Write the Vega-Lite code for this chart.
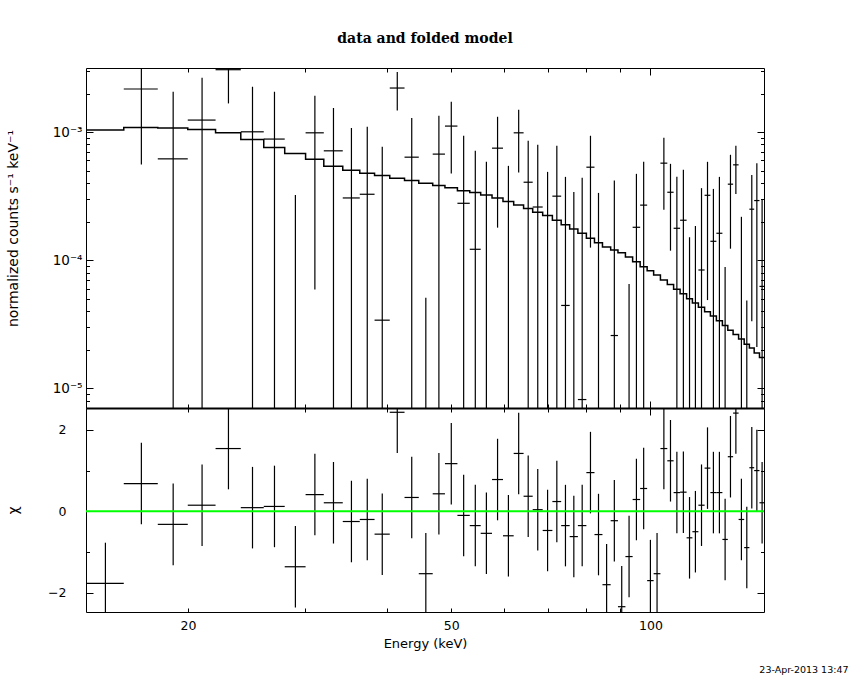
{
  "$schema": "https://vega.github.io/schema/vega-lite/v6.json",
  "width": 850,
  "height": 680,
  "autosize": {"type": "none"},
  "padding": 0,
  "background": "white",
  "config": {
    "view": {"stroke": null},
    "axis": {"grid": false, "domainColor": "black", "tickColor": "black", "labelColor": "black", "titleColor": "black", "labelFont": "DejaVu Sans", "titleFont": "DejaVu Sans", "labelFontSize": 12, "titleFontSize": 13, "titleFontWeight": "normal", "domainWidth": 1, "tickWidth": 1}
  },
  "title": {"text": "data and folded model", "font": "DejaVu Serif", "fontSize": 14, "fontWeight": "bold", "color": "black", "offset": -46, "anchor": "middle", "frame": "group"},
  "datasets": {
    "bins": [
      {"e": 15.0, "elo": 14.02, "ehi": 15.99, "y": null, "lo": null, "hi": null, "chi": -1.77, "clo": -2.77, "chh": -0.77},
      {"e": 17.0, "elo": 15.99, "ehi": 18.0, "y": 0.002169, "lo": 0.000558, "hi": 0.00378, "chi": 0.68, "clo": -0.32, "chh": 1.68},
      {"e": 18.99, "elo": 18.0, "ehi": 19.98, "y": 0.000618, "lo": 1e-7, "hi": 0.002066, "chi": -0.32, "clo": -1.32, "chh": 0.68},
      {"e": 21.0, "elo": 19.98, "ehi": 22.01, "y": 0.001241, "lo": 1e-7, "hi": 0.002658, "chi": 0.15, "clo": -0.85, "chh": 1.15},
      {"e": 23.02, "elo": 22.01, "ehi": 24.03, "y": 0.00307, "lo": 0.001674, "hi": 0.00447, "chi": 1.54, "clo": 0.54, "chh": 2.54},
      {"e": 25.03, "elo": 24.03, "ehi": 26.03, "y": 0.001005, "lo": 1e-7, "hi": 0.002262, "chi": 0.09, "clo": -0.91, "chh": 1.09},
      {"e": 27.02, "elo": 26.03, "ehi": 28.0, "y": 0.000882, "lo": 1e-7, "hi": 0.002066, "chi": 0.12, "clo": -0.88, "chh": 1.12},
      {"e": 29.06, "elo": 28.0, "ehi": 30.11, "y": null, "lo": 1e-7, "hi": 0.000323, "chi": -1.36, "clo": -2.36, "chh": -0.36},
      {"e": 31.1, "elo": 30.11, "ehi": 32.08, "y": 0.000987, "lo": 0.0000591, "hi": 0.001923, "chi": 0.41, "clo": -0.59, "chh": 1.41},
      {"e": 33.18, "elo": 32.08, "ehi": 34.27, "y": 0.000714, "lo": 1e-7, "hi": 0.00154, "chi": 0.21, "clo": -0.79, "chh": 1.21},
      {"e": 35.32, "elo": 34.27, "ehi": 36.36, "y": 0.000306, "lo": 1e-7, "hi": 0.001075, "chi": -0.25, "clo": -1.25, "chh": 0.75},
      {"e": 37.32, "elo": 36.36, "ehi": 38.28, "y": 0.000327, "lo": 1e-7, "hi": 0.0011, "chi": -0.2, "clo": -1.2, "chh": 0.8},
      {"e": 39.32, "elo": 38.28, "ehi": 40.36, "y": 0.000034, "lo": 1e-7, "hi": 0.000767, "chi": -0.56, "clo": -1.56, "chh": 0.44},
      {"e": 41.43, "elo": 40.36, "ehi": 42.49, "y": 0.002208, "lo": 0.001476, "hi": 0.002946, "chi": 2.43, "clo": 1.43, "chh": 3.43},
      {"e": 43.57, "elo": 42.49, "ehi": 44.65, "y": 0.000637, "lo": 1e-7, "hi": 0.001287, "chi": 0.34, "clo": -0.66, "chh": 1.34},
      {"e": 45.76, "elo": 44.65, "ehi": 46.87, "y": null, "lo": 1e-7, "hi": 0.0000509, "chi": -1.53, "clo": -2.53, "chh": -0.53},
      {"e": 47.89, "elo": 46.87, "ehi": 48.91, "y": 0.000673, "lo": 5e-6, "hi": 0.001341, "chi": 0.43, "clo": -0.57, "chh": 1.43},
      {"e": 50.0, "elo": 48.91, "ehi": 51.08, "y": 0.001114, "lo": 0.000474, "hi": 0.001726, "chi": 1.17, "clo": 0.17, "chh": 2.17},
      {"e": 52.2, "elo": 51.08, "ehi": 53.32, "y": 0.000278, "lo": 1e-7, "hi": 0.000936, "chi": -0.1, "clo": -1.1, "chh": 0.9},
      {"e": 54.36, "elo": 53.32, "ehi": 55.39, "y": 0.0001216, "lo": 1e-7, "hi": 0.000714, "chi": -0.35, "clo": -1.35, "chh": 0.65},
      {"e": 56.5, "elo": 55.39, "ehi": 57.62, "y": null, "lo": 1e-7, "hi": 0.000586, "chi": -0.54, "clo": -1.54, "chh": 0.46},
      {"e": 58.74, "elo": 57.62, "ehi": 59.86, "y": 0.000749, "lo": 0.0001794, "hi": 0.001317, "chi": 0.78, "clo": -0.22, "chh": 1.78},
      {"e": 61.0, "elo": 59.86, "ehi": 62.13, "y": null, "lo": 1e-7, "hi": 0.000545, "chi": -0.6, "clo": -1.6, "chh": 0.4},
      {"e": 63.22, "elo": 62.13, "ehi": 64.31, "y": 0.000987, "lo": 0.000483, "hi": 0.001494, "chi": 1.42, "clo": 0.42, "chh": 2.42},
      {"e": 65.35, "elo": 64.31, "ehi": 66.38, "y": 0.000406, "lo": 1e-7, "hi": 0.000855, "chi": 0.37, "clo": -0.63, "chh": 1.37},
      {"e": 67.56, "elo": 66.38, "ehi": 68.73, "y": 0.00026, "lo": 1e-7, "hi": 0.000796, "chi": 0.04, "clo": -0.96, "chh": 1.04},
      {"e": 69.91, "elo": 68.73, "ehi": 71.09, "y": null, "lo": 1e-7, "hi": 0.000489, "chi": -0.47, "clo": -1.47, "chh": 0.53},
      {"e": 72.2, "elo": 71.09, "ehi": 73.3, "y": 0.000316, "lo": 1e-7, "hi": 0.000781, "chi": 0.24, "clo": -0.76, "chh": 1.24},
      {"e": 74.4, "elo": 73.3, "ehi": 75.5, "y": 0.0000443, "lo": 1e-7, "hi": 0.000447, "chi": -0.35, "clo": -1.35, "chh": 0.65},
      {"e": 76.6, "elo": 75.5, "ehi": 77.69, "y": null, "lo": 1e-7, "hi": 0.000341, "chi": -0.62, "clo": -1.62, "chh": 0.38},
      {"e": 78.86, "elo": 77.69, "ehi": 80.02, "y": 0.00000816, "lo": 1e-7, "hi": 0.000441, "chi": -0.35, "clo": -1.35, "chh": 0.65},
      {"e": 81.17, "elo": 80.02, "ehi": 82.31, "y": 0.000532, "lo": 0.0001253, "hi": 0.000936, "chi": 0.95, "clo": -0.05, "chh": 1.95},
      {"e": 83.47, "elo": 82.31, "ehi": 84.63, "y": null, "lo": 1e-7, "hi": 0.000335, "chi": -0.57, "clo": -1.57, "chh": 0.43},
      {"e": 85.86, "elo": 84.63, "ehi": 87.08, "y": null, "lo": null, "hi": null, "chi": -1.8, "clo": -2.8, "chh": -0.8},
      {"e": 88.2, "elo": 87.08, "ehi": 89.32, "y": 0.0000258, "lo": 1e-7, "hi": 0.000418, "chi": -0.23, "clo": -1.23, "chh": 0.77},
      {"e": 90.5, "elo": 89.32, "ehi": 91.67, "y": null, "lo": null, "hi": null, "chi": -2.34, "clo": -3.34, "chh": -1.34},
      {"e": 92.84, "elo": 91.67, "ehi": 94.0, "y": null, "lo": 1e-7, "hi": 0.0000651, "chi": -1.11, "clo": -2.11, "chh": -0.11},
      {"e": 95.25, "elo": 94.0, "ehi": 96.49, "y": 0.0001806, "lo": 1e-7, "hi": 0.000472, "chi": 0.29, "clo": -0.71, "chh": 1.29},
      {"e": 97.68, "elo": 96.49, "ehi": 98.87, "y": 0.000269, "lo": 1e-7, "hi": 0.000586, "chi": 0.56, "clo": -0.44, "chh": 1.56},
      {"e": 100.0, "elo": 98.87, "ehi": 101.13, "y": null, "lo": null, "hi": null, "chi": -1.7, "clo": -2.7, "chh": -0.7},
      {"e": 102.34, "elo": 101.13, "ehi": 103.55, "y": null, "lo": null, "hi": null, "chi": -1.53, "clo": -2.53, "chh": -0.53},
      {"e": 104.8, "elo": 103.55, "ehi": 106.06, "y": 0.000572, "lo": 0.000248, "hi": 0.000903, "chi": 1.54, "clo": 0.54, "chh": 2.54},
      {"e": 107.24, "elo": 106.06, "ehi": 108.41, "y": 0.000339, "lo": 0.0001186, "hi": 0.000565, "chi": 1.24, "clo": 0.24, "chh": 2.24},
      {"e": 109.65, "elo": 108.41, "ehi": 110.89, "y": 0.0001774, "lo": 1e-7, "hi": 0.000447, "chi": 0.46, "clo": -0.54, "chh": 1.46},
      {"e": 112.16, "elo": 110.89, "ehi": 113.43, "y": 0.000205, "lo": 1e-7, "hi": 0.000507, "chi": 0.47, "clo": -0.53, "chh": 1.47},
      {"e": 114.59, "elo": 113.43, "ehi": 115.74, "y": null, "lo": 1e-7, "hi": 0.000151, "chi": -0.65, "clo": -1.65, "chh": 0.35},
      {"e": 116.96, "elo": 115.74, "ehi": 118.18, "y": null, "lo": 1e-7, "hi": 0.0001849, "chi": -0.5, "clo": -1.5, "chh": 0.5},
      {"e": 119.47, "elo": 118.18, "ehi": 120.76, "y": 0.0000838, "lo": 1e-7, "hi": 0.000365, "chi": 0.15, "clo": -0.85, "chh": 1.15},
      {"e": 121.99, "elo": 120.76, "ehi": 123.22, "y": 0.000321, "lo": 0.0000488, "hi": 0.000586, "chi": 1.06, "clo": 0.06, "chh": 2.06},
      {"e": 124.52, "elo": 123.22, "ehi": 125.82, "y": 0.0001404, "lo": 1e-7, "hi": 0.00036, "chi": 0.46, "clo": -0.54, "chh": 1.46},
      {"e": 127.15, "elo": 125.82, "ehi": 128.48, "y": 0.0001622, "lo": 1e-7, "hi": 0.000447, "chi": 0.46, "clo": -0.54, "chh": 1.46},
      {"e": 129.7, "elo": 128.48, "ehi": 130.92, "y": null, "lo": 1e-7, "hi": 0.0000884, "chi": -0.69, "clo": -1.69, "chh": 0.31},
      {"e": 132.14, "elo": 130.92, "ehi": 133.36, "y": 0.000392, "lo": 0.0001229, "hi": 0.000665, "chi": 1.34, "clo": 0.34, "chh": 2.34},
      {"e": 134.65, "elo": 133.36, "ehi": 135.93, "y": 0.000555, "lo": 0.000329, "hi": 0.000781, "chi": 2.41, "clo": 1.41, "chh": 3.41},
      {"e": 137.27, "elo": 135.93, "ehi": 138.6, "y": null, "lo": 1e-7, "hi": 0.000218, "chi": -0.2, "clo": -1.2, "chh": 0.8},
      {"e": 139.87, "elo": 138.6, "ehi": 141.13, "y": null, "lo": 1e-7, "hi": 0.0000485, "chi": -0.89, "clo": -1.89, "chh": 0.11},
      {"e": 142.32, "elo": 141.13, "ehi": 143.51, "y": 0.00025, "lo": 0.0000334, "hi": 0.000463, "chi": 1.07, "clo": 0.07, "chh": 2.07},
      {"e": 144.85, "elo": 143.51, "ehi": 146.18, "y": 0.000292, "lo": 0.000021, "hi": 0.000572, "chi": 1.0, "clo": 0.0, "chh": 2.0},
      {"e": 147.52, "elo": 146.18, "ehi": 148.85, "y": 0.0000624, "lo": 1e-7, "hi": 0.000295, "chi": 0.21, "clo": -0.79, "chh": 1.21}
    ],
    "model": [
      {"e": 14.02, "m": 0.001036}, {"e": 15.99, "m": 0.001087}, {"e": 18.0, "m": 0.001075}, {"e": 19.98, "m": 0.001048},
      {"e": 22.01, "m": 0.000987}, {"e": 24.03, "m": 0.000875}, {"e": 26.03, "m": 0.000758}, {"e": 28.0, "m": 0.00068},
      {"e": 30.11, "m": 0.000613}, {"e": 32.08, "m": 0.000542}, {"e": 34.27, "m": 0.000504}, {"e": 36.36, "m": 0.000478},
      {"e": 38.28, "m": 0.000458}, {"e": 40.36, "m": 0.000437}, {"e": 42.49, "m": 0.000418}, {"e": 44.65, "m": 0.000399},
      {"e": 46.87, "m": 0.000382}, {"e": 48.91, "m": 0.000367}, {"e": 51.08, "m": 0.000349}, {"e": 53.32, "m": 0.000337},
      {"e": 55.39, "m": 0.000323}, {"e": 57.62, "m": 0.000306}, {"e": 59.86, "m": 0.000287}, {"e": 62.13, "m": 0.00027},
      {"e": 64.31, "m": 0.000253}, {"e": 66.38, "m": 0.000237}, {"e": 68.73, "m": 0.000223}, {"e": 71.09, "m": 0.000205},
      {"e": 73.3, "m": 0.0001894}, {"e": 75.5, "m": 0.0001752}, {"e": 77.69, "m": 0.0001622}, {"e": 80.02, "m": 0.0001482},
      {"e": 82.31, "m": 0.0001369}, {"e": 84.63, "m": 0.0001267}, {"e": 87.08, "m": 0.00012}, {"e": 89.32, "m": 0.0001143},
      {"e": 91.67, "m": 0.0001058}, {"e": 94.0, "m": 0.0000972}, {"e": 96.49, "m": 0.0000889}, {"e": 98.87, "m": 0.0000827},
      {"e": 101.13, "m": 0.0000765}, {"e": 103.55, "m": 0.0000699}, {"e": 106.06, "m": 0.0000647}, {"e": 108.41, "m": 0.0000594},
      {"e": 110.89, "m": 0.0000546}, {"e": 113.43, "m": 0.0000499}, {"e": 115.74, "m": 0.0000462}, {"e": 118.18, "m": 0.0000428},
      {"e": 120.76, "m": 0.0000395}, {"e": 123.22, "m": 0.0000366}, {"e": 125.82, "m": 0.0000336}, {"e": 128.48, "m": 0.0000309},
      {"e": 130.92, "m": 0.0000284}, {"e": 133.36, "m": 0.0000263}, {"e": 135.93, "m": 0.0000242}, {"e": 138.6, "m": 0.0000221},
      {"e": 141.13, "m": 0.0000206}, {"e": 143.51, "m": 0.00001888}, {"e": 146.18, "m": 0.00001738}, {"e": 148.85, "m": 0.00001738}
    ]
  },
  "layer": [
    {
      "data": {"name": "model"},
      "mark": {"type": "line", "interpolate": "step-after", "color": "black", "strokeWidth": 1.5},
      "encoding": {
        "x": {"field": "e", "type": "quantitative",
              "scale": {"type": "log", "domain": [14.02, 148.5], "range": [86, 764], "clamp": true, "nice": false},
              "axis": {"orient": "top", "offset": -408, "values": [20, 30, 40, 50, 60, 70, 80, 90, 100], "labels": false, "title": null, "domain": true, "domainWidth": 2,
                       "tickSize": {"condition": {"test": "datum.value == 100", "value": 7}, "value": 4}}},
        "y": {"field": "m", "type": "quantitative",
              "scale": {"type": "log", "domain": [7.01e-6, 0.003165], "range": [408, 68], "clamp": true, "nice": false},
              "axis": {"orient": "right", "offset": -764, "labels": false, "title": null, "domain": true,
                       "values": [8e-6, 9e-6, 1e-5, 2e-5, 3e-5, 4e-5, 5e-5, 6e-5, 7e-5, 8e-5, 9e-5, 0.0001, 0.0002, 0.0003, 0.0004, 0.0005, 0.0006, 0.0007, 0.0008, 0.0009, 0.001, 0.002, 0.003],
                       "tickSize": {"condition": {"test": "datum.value == 0.001 || datum.value == 0.0001 || datum.value == 0.00001", "value": 7}, "value": 3.5}}}
      }
    },
    {
      "data": {"name": "bins"},
      "transform": [{"filter": "isValid(datum.y)"}],
      "mark": {"type": "rule", "color": "black", "strokeWidth": 1.2},
      "encoding": {
        "x": {"field": "elo", "type": "quantitative",
              "scale": {"type": "log", "domain": [14.02, 148.5], "range": [86, 764], "clamp": true, "nice": false},
              "axis": {"orient": "bottom", "offset": -612, "values": [20, 30, 40, 50, 60, 70, 80, 90, 100], "labels": false, "title": null, "domain": true,
                       "tickSize": {"condition": {"test": "datum.value == 100", "value": 7}, "value": 4}}},
        "x2": {"field": "ehi"},
        "y": {"field": "y", "type": "quantitative",
              "scale": {"type": "log", "domain": [7.01e-6, 0.003165], "range": [408, 68], "clamp": true, "nice": false},
              "axis": {"orient": "left", "offset": -764, "labels": false, "title": null, "domain": true,
                       "values": [8e-6, 9e-6, 1e-5, 2e-5, 3e-5, 4e-5, 5e-5, 6e-5, 7e-5, 8e-5, 9e-5, 0.0001, 0.0002, 0.0003, 0.0004, 0.0005, 0.0006, 0.0007, 0.0008, 0.0009, 0.001, 0.002, 0.003],
                       "tickSize": {"condition": {"test": "datum.value == 0.001 || datum.value == 0.0001 || datum.value == 0.00001", "value": 7}, "value": 3.5}}}
      }
    },
    {
      "data": {"name": "bins"},
      "transform": [{"filter": "isValid(datum.lo)"}],
      "mark": {"type": "rule", "color": "black", "strokeWidth": 1.2},
      "encoding": {
        "x": {"field": "e", "type": "quantitative",
              "scale": {"type": "log", "domain": [14.02, 148.5], "range": [86, 764], "clamp": true, "nice": false},
              "axis": null},
        "y": {"field": "lo", "type": "quantitative",
              "scale": {"type": "log", "domain": [7.01e-6, 0.003165], "range": [408, 68], "clamp": true, "nice": false},
              "axis": {"orient": "left", "offset": -86, "ticks": false, "domain": false, "values": [0.00001, 0.0001, 0.001],
                       "labelExpr": "datum.value < 0.00005 ? '10⁻⁵' : datum.value < 0.0005 ? '10⁻⁴' : '10⁻³'",
                       "labelPadding": 4, "labelFontSize": 13.5,
                       "title": "normalized counts s⁻¹ keV⁻¹", "titleFontSize": 14, "titleX": -69, "titleY": 228, "titleBaseline": "alphabetic", "titleAngle": -90}},
        "y2": {"field": "hi"}
      }
    },
    {
      "data": {"name": "bins"},
      "mark": {"type": "rule", "color": "black", "strokeWidth": 1.2},
      "encoding": {
        "x": {"field": "elo", "type": "quantitative",
              "scale": {"type": "log", "domain": [14.02, 148.5], "range": [86, 764], "clamp": true, "nice": false},
              "axis": {"orient": "bottom", "offset": -272, "values": [20, 30, 40, 50, 60, 70, 80, 90, 100], "labels": false, "domain": true,
                       "tickSize": {"condition": {"test": "datum.value == 100", "value": 7}, "value": 4},
                       "title": "23-Apr-2013 13:47", "titleX": 848, "titleY": 261, "titleAlign": "right", "titleBaseline": "middle", "titleFontSize": 9.5, "titleAngle": 0}},
        "x2": {"field": "ehi"},
        "y": {"field": "chi", "type": "quantitative",
              "scale": {"type": "linear", "domain": [-2.47, 2.535], "range": [612, 408], "clamp": true, "nice": false, "zero": false},
              "axis": {"orient": "right", "offset": -764, "labels": false, "title": null, "domain": true, "values": [-2, -1, 0, 1, 2],
                       "tickSize": {"condition": {"test": "datum.value % 2 == 0", "value": 7}, "value": 3.5}}}
      }
    },
    {
      "data": {"name": "bins"},
      "mark": {"type": "rule", "color": "black", "strokeWidth": 1.2},
      "encoding": {
        "x": {"field": "e", "type": "quantitative",
              "scale": {"type": "log", "domain": [14.02, 148.5], "range": [86, 764], "clamp": true, "nice": false},
              "axis": {"orient": "top", "offset": -612, "values": [20, 30, 40, 50, 60, 70, 80, 90, 100], "labels": false, "title": null, "domain": true,
                       "tickSize": {"condition": {"test": "datum.value == 100", "value": 7}, "value": 4}}},
        "y": {"field": "clo", "type": "quantitative",
              "scale": {"type": "linear", "domain": [-2.47, 2.535], "range": [612, 408], "clamp": true, "nice": false, "zero": false},
              "axis": {"orient": "left", "offset": -764, "labels": false, "title": null, "domain": true, "values": [-2, -1, 0, 1, 2],
                       "tickSize": {"condition": {"test": "datum.value % 2 == 0", "value": 7}, "value": 3.5}}},
        "y2": {"field": "chh"}
      }
    },
    {
      "data": {"values": [{"chi": 0}]},
      "mark": {"type": "rule", "color": "#00ff00", "strokeWidth": 2},
      "encoding": {
        "x": {"datum": 14.02, "type": "quantitative",
              "scale": {"type": "log", "domain": [14.02, 148.5], "range": [86, 764], "clamp": true, "nice": false},
              "axis": {"orient": "bottom", "offset": -68, "values": [20, 50, 100], "ticks": false, "domain": false, "format": "d",
                       "labelPadding": 7, "labelFontSize": 12.5, "labelFlush": false,
                       "title": "Energy (keV)", "titleX": 425, "titleY": 35, "titleBaseline": "alphabetic"}},
        "x2": {"datum": 148.5},
        "y": {"field": "chi", "type": "quantitative",
              "scale": {"type": "linear", "domain": [-2.47, 2.535], "range": [612, 408], "clamp": true, "nice": false, "zero": false},
              "axis": {"orient": "left", "offset": -86, "ticks": false, "domain": false, "values": [-2, 0, 2],
                       "labelExpr": "datum.value < 0 ? '−2' : datum.value > 0 ? '2' : '0'", "labelPadding": 20, "labelFontSize": 12.5,
                       "title": "χ", "titleFontSize": 14, "titleX": -69, "titleY": 510, "titleBaseline": "alphabetic", "titleAngle": -90}}
      }
    }
  ],
  "resolve": {"scale": {"y": "independent"}, "axis": {"x": "independent", "y": "independent"}}
}
